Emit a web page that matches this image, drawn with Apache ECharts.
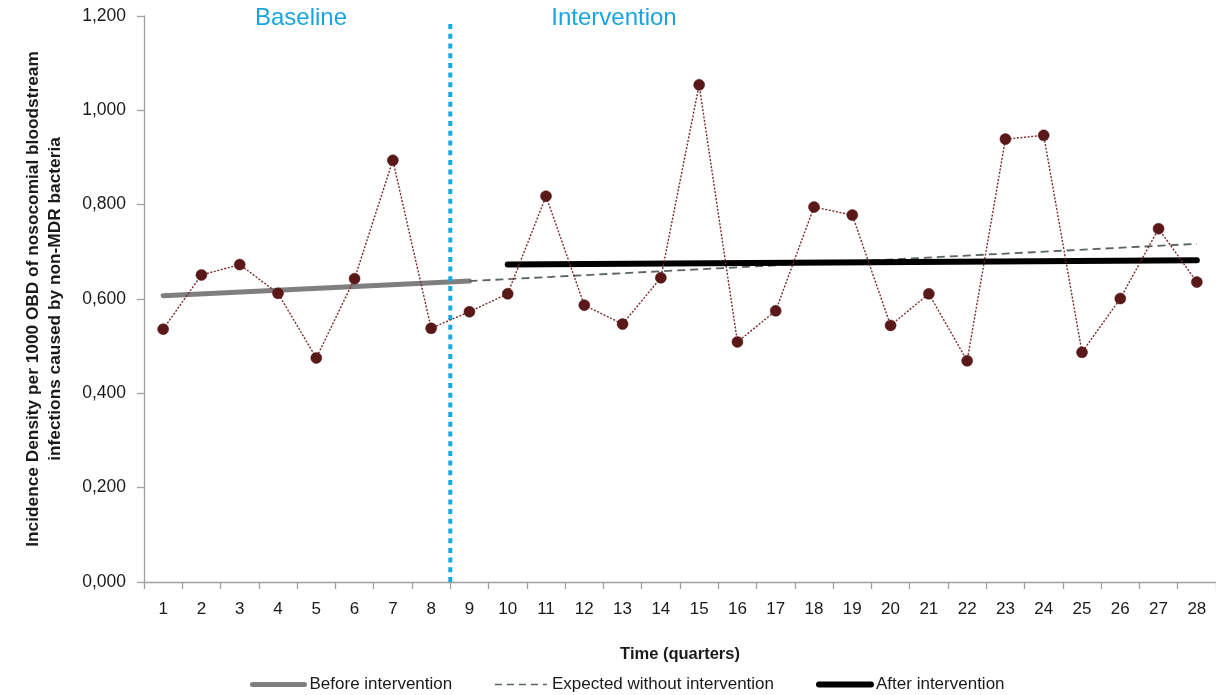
<!DOCTYPE html>
<html>
<head>
<meta charset="utf-8">
<script src="https://cdn.jsdelivr.net/npm/echarts@6/dist/echarts.min.js"></script>
<style>
  html, body { margin: 0; padding: 0; background: #ffffff; }
  #chart { width: 1216px; height: 695px; }
</style>
</head>
<body>
<div id="chart"></div>
<script>
const quarters = ['1','2','3','4','5','6','7','8','9','10','11','12','13','14','15','16','17','18','19','20','21','22','23','24','25','26','27','28'];
const incidence = [0.536, 0.651, 0.673, 0.612, 0.475, 0.643, 0.894, 0.538,
                   0.573, 0.611, 0.818, 0.587, 0.547, 0.645, 1.054, 0.509, 0.575, 0.795,
                   0.778, 0.544, 0.611, 0.469, 0.939, 0.947, 0.487, 0.601, 0.749, 0.636];
const beforeTrend = [['1', 0.607], ['9', 0.638]];
const expectedTrend = [['9', 0.638], ['28', 0.717]];
const afterTrend = [['10', 0.673], ['28', 0.682]];
const interventionStart = [[8, 0], [8, 1.19]];
const phaseLabels = ['Baseline', 'Intervention'];

const FONT = 'Liberation Sans, Arial, sans-serif';
const chart = echarts.init(document.getElementById('chart'));

chart.setOption({
  animation: false,
  backgroundColor: '#ffffff',
  grid: { left: 144, top: 16, width: 1076, height: 566 },
  legend: {
    left: 250, top: 676, width: 900, padding: 0,
    orient: 'horizontal',
    itemWidth: 52, itemHeight: 12, itemGap: 42,
    textStyle: { fontFamily: FONT, fontSize: 17, color: '#1a1a1a' },
    data: [
      { name: 'Before intervention', lineStyle: { width: 5, color: '#7f7f7f', cap: 'round' }, itemStyle: { opacity: 0 } },
      { name: 'Expected without intervention', lineStyle: { width: 1.5, color: '#5a6464', type: [7, 5] }, itemStyle: { opacity: 0 } },
      { name: 'After intervention', lineStyle: { width: 6, color: '#000000', cap: 'round' }, itemStyle: { opacity: 0 } }
    ]
  },
  xAxis: [{
    type: 'category',
    data: quarters,
    boundaryGap: true,
    name: 'Time (quarters)',
    nameLocation: 'middle',
    nameGap: 64,
    nameTextStyle: { fontFamily: FONT, fontSize: 16.5, fontWeight: 'bold', color: '#1a1a1a' },
    axisLine: { lineStyle: { color: '#a0a0a0', width: 1.3 } },
    axisTick: { show: true, length: 7, alignWithLabel: false, lineStyle: { color: '#a0a0a0', width: 1.3 } },
    axisLabel: { fontFamily: FONT, fontSize: 17, color: '#1a1a1a', margin: 19, interval: 0 },
    splitLine: { show: false }
  }, {
    type: 'value', min: 0, max: 28, show: false
  }],
  yAxis: {
    type: 'value',
    min: 0, max: 1.2, interval: 0.2,
    name: 'Incidence Density per 1000 OBD of nosocomial bloodstream\ninfections caused by non-MDR bacteria',
    nameLocation: 'middle',
    nameRotate: 90,
    nameGap: 78,
    nameTextStyle: { fontFamily: FONT, fontSize: 17.3, fontWeight: 'bold', color: '#1a1a1a', lineHeight: 22 },
    axisLine: { show: true, lineStyle: { color: '#a0a0a0', width: 1.3 } },
    axisTick: { show: true, length: 7, lineStyle: { color: '#a0a0a0', width: 1.3 } },
    axisLabel: {
      fontFamily: FONT, fontSize: 17.5, color: '#1a1a1a', margin: 18,
      formatter: v => v.toFixed(3).replace('.', ',')
    },
    splitLine: { show: false }
  },
  graphic: [
    { type: 'text', x: 301, y: 18, style: { text: phaseLabels[0], fontFamily: FONT, fontSize: 24, fill: '#1aa3e0', align: 'center', verticalAlign: 'middle' } },
    { type: 'text', x: 614, y: 18, style: { text: phaseLabels[1], fontFamily: FONT, fontSize: 24, fill: '#1aa3e0', align: 'center', verticalAlign: 'middle' } }
  ],
  series: [
    {
      name: 'Before intervention', type: 'line', data: beforeTrend,
      symbol: 'none', z: 2,
      lineStyle: { color: '#7f7f7f', width: 5, cap: 'round' }
    },
    {
      name: 'Expected without intervention', type: 'line', data: expectedTrend,
      symbol: 'none', z: 2,
      lineStyle: { color: '#5a6464', width: 1.8, type: [8, 5] }
    },
    {
      name: 'After intervention', type: 'line', data: afterTrend,
      symbol: 'none', z: 2,
      lineStyle: { color: '#000000', width: 6, cap: 'round' }
    },
    {
      name: 'Intervention start', type: 'line', xAxisIndex: 1, data: interventionStart,
      symbol: 'none', z: 3,
      lineStyle: { color: '#1aa7e6', width: 4, type: [5, 4.7], cap: 'butt' }
    },
    {
      name: 'Incidence', type: 'line', data: incidence,
      symbol: 'circle', symbolSize: 11, z: 4,
      lineStyle: { color: '#7a2a2a', width: 1.4, type: [2, 1.6] },
      itemStyle: { color: '#5b1819', borderColor: '#4a1010', borderWidth: 0.5 }
    }
  ]
});
</script>
</body>
</html>
